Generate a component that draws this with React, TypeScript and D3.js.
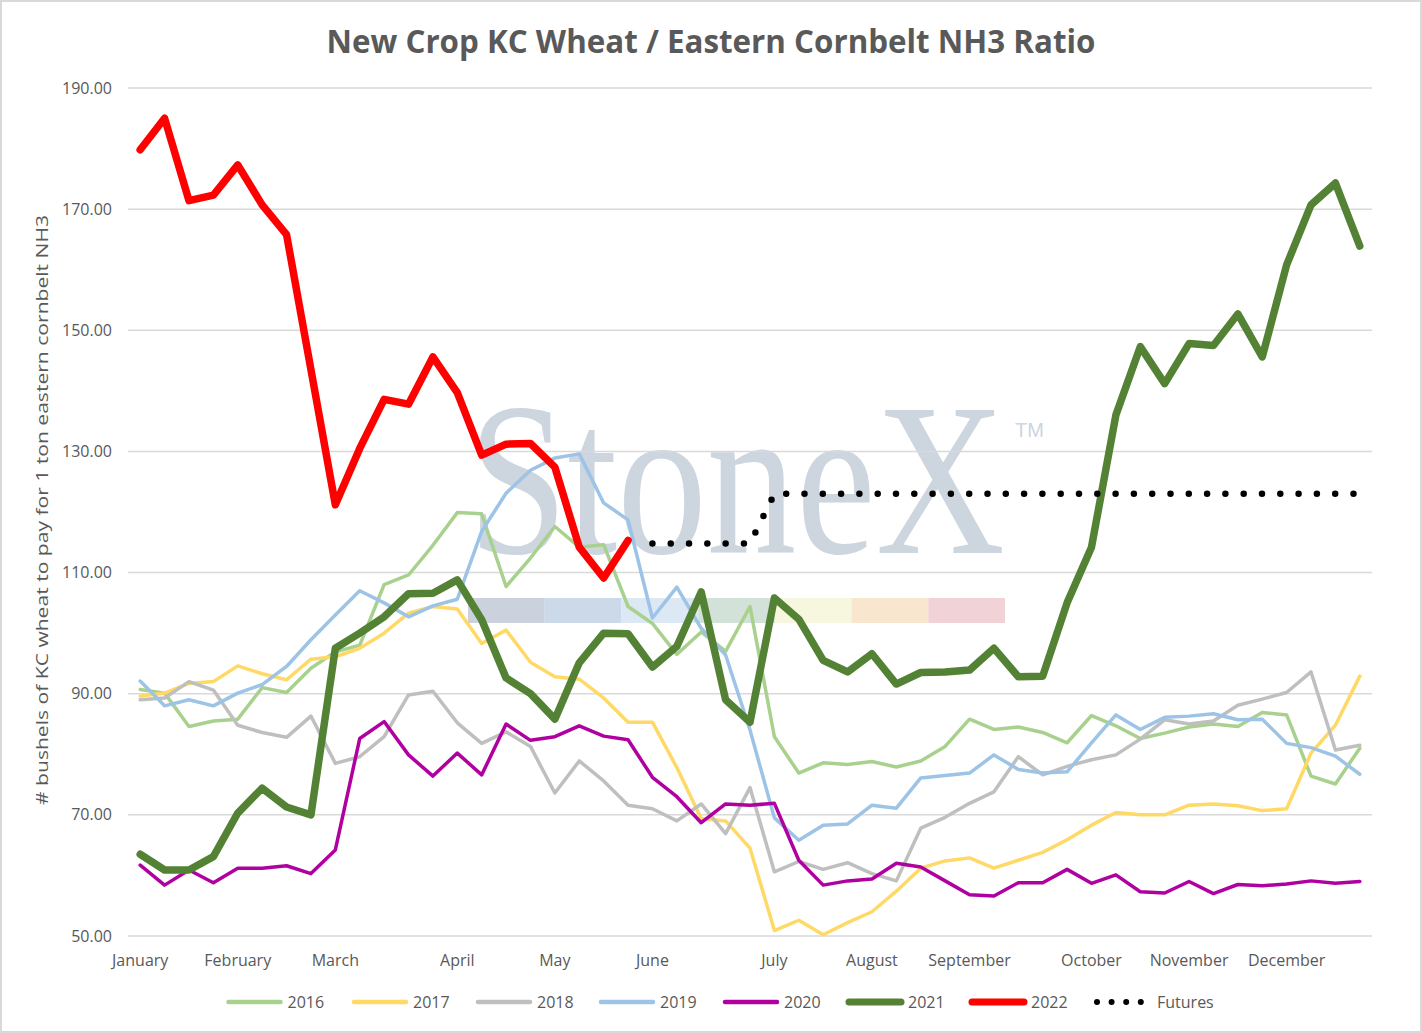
import React from "react";
import * as d3 from "d3";

const W = 1422;
const H = 1033;

const title = "New Crop KC Wheat / Eastern Cornbelt NH3 Ratio";
const yAxisTitle = "# bushels of KC wheat to pay for 1 ton eastern cornbelt NH3";

const weekCount = 51;
const monthLabels = ["January", "February", "March", "April", "May", "June", "July", "August", "September", "October", "November", "December"];
const monthWeeks = [0, 4, 8, 13, 17, 21, 26, 30, 34, 39, 43, 47];
const yTicks = [50, 70, 90, 110, 130, 150, 170, 190];

const s2016 = [90.7, 90.1, 84.6, 85.5, 85.8, 91.0, 90.2, 94.2, 96.9, 98.0, 108.0, 109.6, 114.5, 119.9, 119.7, 107.7, 112.4, 117.6, 114.2, 114.6, 104.4, 101.6, 96.5, 100.2, 97.0, 104.4, 82.9, 76.9, 78.6, 78.3, 78.8, 77.9, 78.9, 81.3, 85.8, 84.1, 84.5, 83.6, 81.9, 86.4, 84.7, 82.6, 83.5, 84.5, 85.0, 84.6, 86.9, 86.5, 76.4, 75.1, 81.0];
const s2017 = [89.6, 90.1, 91.7, 92.0, 94.6, 93.3, 92.3, 95.7, 96.1, 97.5, 100.0, 103.3, 104.4, 104.0, 98.3, 100.5, 95.2, 92.8, 92.4, 89.3, 85.3, 85.3, 77.8, 69.4, 69.0, 64.5, 50.9, 52.6, 50.2, 52.2, 54.0, 57.4, 61.2, 62.4, 62.9, 61.2, 62.5, 63.8, 65.9, 68.3, 70.4, 70.0, 70.0, 71.6, 71.8, 71.5, 70.7, 71.0, 80.2, 84.8, 92.9];
const s2018 = [89.0, 89.3, 92.0, 90.6, 84.8, 83.6, 82.8, 86.3, 78.5, 79.6, 82.9, 89.8, 90.4, 85.2, 81.8, 83.7, 81.3, 73.6, 78.9, 75.6, 71.6, 71.0, 69.0, 71.8, 66.9, 74.5, 60.6, 62.3, 61.0, 62.1, 60.3, 59.1, 67.8, 69.6, 71.9, 73.8, 79.6, 76.6, 78.0, 79.1, 79.9, 82.5, 85.7, 85.0, 85.5, 88.1, 89.1, 90.2, 93.6, 80.7, 81.5];
const s2019 = [92.1, 88.0, 89.0, 88.0, 90.1, 91.5, 94.5, 98.9, 103.0, 107.0, 105.0, 102.7, 104.5, 105.6, 116.8, 123.1, 126.9, 128.9, 129.6, 121.5, 118.7, 102.5, 107.6, 100.8, 96.4, 84.0, 69.5, 65.8, 68.3, 68.5, 71.6, 71.1, 76.1, 76.5, 76.9, 79.9, 77.5, 76.9, 77.1, 81.9, 86.5, 84.1, 86.1, 86.3, 86.7, 85.7, 85.8, 81.8, 81.1, 79.7, 76.7];
const s2020 = [61.7, 58.4, 60.9, 58.8, 61.2, 61.2, 61.6, 60.3, 64.2, 82.6, 85.4, 79.9, 76.4, 80.2, 76.6, 85.0, 82.3, 82.9, 84.7, 83.0, 82.4, 76.2, 73.0, 68.7, 71.8, 71.6, 71.9, 62.5, 58.4, 59.1, 59.4, 62.0, 61.4, 59.1, 56.8, 56.6, 58.8, 58.8, 61.0, 58.7, 60.1, 57.3, 57.1, 59.0, 57.0, 58.5, 58.3, 58.6, 59.1, 58.7, 59.0];
const s2021 = [63.5, 60.9, 60.9, 63.1, 70.3, 74.4, 71.3, 70.0, 97.5, 100.0, 102.7, 106.5, 106.6, 108.8, 102.2, 92.6, 90.0, 85.8, 95.1, 100.0, 99.9, 94.4, 97.8, 106.8, 89.0, 85.3, 105.8, 102.3, 95.5, 93.6, 96.6, 91.6, 93.5, 93.6, 93.9, 97.5, 92.8, 92.9, 105.0, 114.2, 136.0, 147.3, 141.2, 147.8, 147.5, 152.7, 145.6, 160.8, 170.7, 174.3, 163.9];
const s2022 = [179.8, 185.0, 171.4, 172.3, 177.3, 170.7, 165.8, 143.5, 121.2, 130.5, 138.6, 137.8, 145.6, 139.7, 129.4, 131.2, 131.3, 127.4, 114.2, 109.1, 115.3];
const futuresStartWeek = 21;
const futures = [114.8, 114.8, 114.8, 114.8, 114.8, 123.0, 123.0, 123.0, 123.0, 123.0, 123.0, 123.0, 123.0, 123.0, 123.0, 123.0, 123.0, 123.0, 123.0, 123.0, 123.0, 123.0, 123.0, 123.0, 123.0, 123.0, 123.0, 123.0, 123.0, 123.0];

const seriesNames = ["2016", "2017", "2018", "2019", "2020", "2021", "2022"];
const seriesValues = [s2016, s2017, s2018, s2019, s2020, s2021, s2022];
const seriesColors = ["#A9D18E", "#FFD966", "#BFBFBF", "#9DC3E6", "#B000A0", "#548235", "#FF0000"];
const seriesWidths = [3.5, 3.5, 3.5, 3.5, 3.5, 7.5, 7.5];

const watermarkBar = ["#CBD2DD", "#CCD9E8", "#DCE9F4", "#D3E2D9", "#F7F6DF", "#F9E6CF", "#F1D3D7"];

const TEXT = "#595959";
const GRID = "#D9D9D9";
const FONT = "'Open Sans', 'Noto Sans', sans-serif";

export default function App() {
  const weeks = d3.range(weekCount);
  const x = d3.scalePoint<number>().domain(weeks).range([128, 1372]).padding(0.5);
  const y = d3.scaleLinear().domain([50, 190]).range([936, 88]);

  const line = d3
    .line<number>()
    .x((_, i) => x(i) as number)
    .y((v) => y(v));

  const futLine = d3
    .line<number>()
    .x((_, i) => x(i + futuresStartWeek) as number)
    .y((v) => y(v));

  const legendX = [226.5, 352, 476, 599, 723, 847, 970];
  const legendY = 1002;

  const barX0 = 468;
  const barX1 = 1005;
  const segW = (barX1 - barX0) / watermarkBar.length;

  return (
    <div style={{ position: "absolute", left: 0, top: 0 }}>
      <svg width={W} height={H} viewBox={`0 0 ${W} ${H}`} style={{ display: "block" }}>
        <rect x={0} y={0} width={W} height={H} fill="#FFFFFF" />
        <rect x={1} y={1} width={W - 2} height={H - 2} fill="none" stroke={GRID} strokeWidth={2} />

        {/* watermark */}
        <g>
          <text
            transform={`translate(${barX0},553) scale(1,1.22)`}
            fontFamily="'Liberation Serif', 'DejaVu Serif', serif"
            fontSize={179}
            fill="#CDD5DF"
          >
            StoneX
          </text>
          <text x={1015} y={437} fontFamily="'Liberation Sans', Arial, sans-serif" fontSize={20} fill="#CDD5DF">
            TM
          </text>
          {watermarkBar.map((c, i) => (
            <rect key={i} x={barX0 + i * segW} y={598} width={segW} height={25} fill={c} />
          ))}
        </g>

        {/* title */}
        <text
          x={711}
          y={53}
          textAnchor="middle"
          fontFamily={FONT}
          fontWeight={700}
          fontSize={31.5}
          fill={TEXT}
          textLength={769}
          lengthAdjust="spacingAndGlyphs"
        >
          {title}
        </text>

        {/* gridlines + y labels */}
        {yTicks.map((t) => (
          <g key={t}>
            <line x1={128} x2={1372} y1={y(t)} y2={y(t)} stroke={GRID} strokeWidth={1.5} />
            <text x={112} y={y(t) + 5.5} textAnchor="end" fontFamily={FONT} fontSize={16} fill={TEXT}>
              {t.toFixed(2)}
            </text>
          </g>
        ))}

        {/* x labels */}
        {monthLabels.map((m, i) => (
          <text key={m} x={x(monthWeeks[i]) as number} y={966} textAnchor="middle" fontFamily={FONT} fontSize={16} fill={TEXT}>
            {m}
          </text>
        ))}

        {/* y axis title */}
        <text
          transform={`translate(48,510) rotate(-90)`}
          textAnchor="middle"
          fontFamily={FONT}
          fontSize={17}
          fill={TEXT}
          textLength={590}
          lengthAdjust="spacingAndGlyphs"
        >
          {yAxisTitle}
        </text>

        {/* series */}
        {seriesValues.map((vals, i) => (
          <path
            key={seriesNames[i]}
            d={line(vals) || ""}
            fill="none"
            stroke={seriesColors[i]}
            strokeWidth={seriesWidths[i]}
            strokeLinejoin="round"
            strokeLinecap="round"
          />
        ))}
        <path
          d={futLine(futures) || ""}
          fill="none"
          stroke="#000000"
          strokeWidth={6.5}
          strokeLinecap="round"
          strokeDasharray="0 18.3"
        />

        {/* legend */}
        {seriesNames.map((n, i) => (
          <g key={n}>
            <line
              x1={legendX[i] + 2}
              x2={legendX[i] + 54}
              y1={legendY}
              y2={legendY}
              stroke={seriesColors[i]}
              strokeWidth={i >= 5 ? 7 : 4.5}
              strokeLinecap="round"
            />
            <text x={legendX[i] + 61} y={1008} fontFamily={FONT} fontSize={16} fill={TEXT}>
              {n}
            </text>
          </g>
        ))}
        <line x1={1097} x2={1141} y1={legendY} y2={legendY} stroke="#000" strokeWidth={6} strokeLinecap="round" strokeDasharray="0 14.6" />
        <text x={1157} y={1008} fontFamily={FONT} fontSize={16} fill={TEXT}>
          Futures
        </text>
      </svg>
    </div>
  );
}
